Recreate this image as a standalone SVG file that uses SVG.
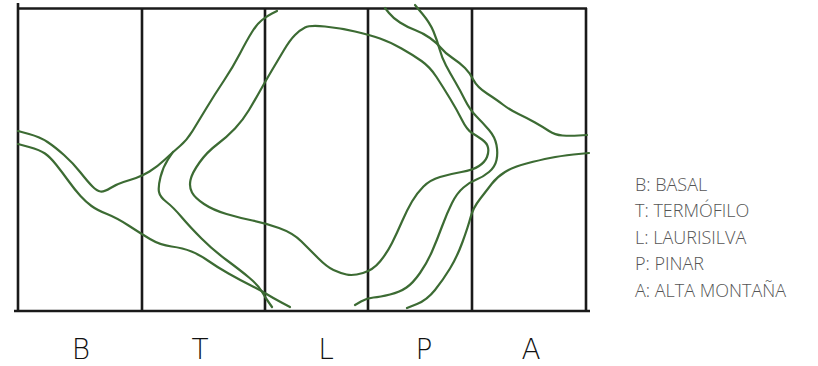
<svg xmlns="http://www.w3.org/2000/svg" width="818" height="366" viewBox="0 0 818 366">
<style>
.frame{stroke:#1a1a1a;stroke-width:2.6;fill:none;stroke-linecap:butt}
.zone{stroke:#3c6b33;stroke-width:2.2;fill:none;stroke-linecap:round;stroke-linejoin:round}
.col{font-family:"DejaVu Sans",sans-serif;font-stretch:condensed;font-weight:300;font-size:28px;fill:#111;text-anchor:middle}
.leg{font-family:"Open Sans","Liberation Sans",sans-serif;font-weight:300;font-size:18px;fill:#555}
</style>
<rect width="818" height="366" fill="#fff"/>
<g id="frame">
<line class="frame" x1="17" y1="8.5" x2="587" y2="8.5"/>
<line class="frame" x1="14" y1="311" x2="590" y2="311" stroke-width="3"/>
<line class="frame" x1="18" y1="3" x2="18" y2="311"/>
<line class="frame" x1="142" y1="8" x2="142" y2="311"/>
<line class="frame" x1="265" y1="8" x2="265" y2="311"/>
<line class="frame" x1="368" y1="8" x2="368" y2="311"/>
<line class="frame" x1="472" y1="8" x2="472" y2="311"/>
<line class="frame" x1="586" y1="8" x2="586" y2="311"/>
</g>
<g id="connectors">
<path class="zone" d="M18,131 L29,134 Q40,137 47.5,142 Q55,147 64,155 Q73,163 80.5,172.5 Q88,182 92.5,186.5 Q97,191 100.5,191.5 Q104,192 110.5,188 Q117,184 123.5,182 Q130,180 136,178 Q142,176 149.5,171.5 Q157,167 165,159.5 Q173,152 180,146 Q187,140 192.5,131 Q198,122 206.5,108 Q215,94 224,80.5 Q233,67 240,53.5 Q247,40 252,32 Q257,24 262,20 Q267,16 272,13.5 L277,11"/>
<path class="zone" d="M173,152 L168,159.5 Q163,167 160.5,177 Q158,187 159,192 Q160,197 166.5,202 Q173,207 181.5,217 Q190,227 201.5,238.5 Q213,250 226.5,260 Q240,270 249,277.5 Q258,285 261.5,291 Q265,297 268.5,302 L272,307"/>
<path class="zone" d="M18,144 L29,147 Q40,150 45,153.5 Q50,157 56,164.5 Q62,172 68.5,181 Q75,190 80.5,196 Q86,202 91.5,206 Q97,210 107,214 Q117,218 128.5,225.5 Q140,233 150,239 Q160,245 171.5,246.5 Q183,248 191.5,251.5 Q200,255 208.5,261 Q217,267 228.5,273.5 Q240,280 250,285 Q260,290 266.5,294 Q273,298 281.5,302.5 L290,307"/>
<path class="zone" d="M305,27.5 Q310,25 325,26.5 Q340,28 355,31.5 Q370,35 380,38.5 Q390,42 401.5,48.5 Q413,55 421.5,61 Q430,67 436.5,77 Q443,87 450,98.5 Q457,110 462,120 Q467,130 472,133 Q477,136 482,139.5 Q487,143 488,147.5 Q489,152 487,157 Q485,162 479,166 Q473,170 461.5,172 Q450,174 440,177 Q430,180 423.5,186.5 Q417,193 412,201.5 Q407,210 402,221.5 Q397,233 392,243 Q387,253 380,261.5 Q373,270 363,273 Q353,276 346.5,274.5 Q340,273 333.5,270 Q327,267 318.5,258.5 Q310,250 301.5,241.5 Q293,233 279,228 Q265,223 252.5,220.5 Q240,218 226.5,214 Q213,210 204,204 Q195,198 192,192.5 Q189,187 190.5,180 Q192,173 199.5,162.5 Q207,152 217,144.5 Q227,137 235,128.5 Q243,120 249,110 Q255,100 260,91 Q265,82 271.5,71 Q278,60 284,50 Q290,40 295,35 Q300,30 305,27.5 Z"/>
<path class="zone" d="M385,8 L389,13 Q393,18 400,22.5 Q407,27 415,30 Q423,33 430,38 Q437,43 441,48 Q445,53 452.5,58 Q460,63 465,68 Q470,73 473.5,80 Q477,87 487,93.5 Q497,100 503.5,105 Q510,110 518.5,114 Q527,118 535,122.5 Q543,127 549,131 Q555,135 562.5,135.5 Q570,136 578.5,135.5 L587,135"/>
<path class="zone" d="M415,5 L422.5,14 Q430,23 433.5,31.5 Q437,40 439.5,49 Q442,58 446,65.5 Q450,73 455,81.5 Q460,90 465,100 Q470,110 476.5,116.5 Q483,123 489,130 Q495,137 496.5,145 Q498,153 496.5,160 Q495,167 489,172 Q483,177 476.5,179.5 Q470,182 463.5,187.5 Q457,193 452,203 Q447,213 442,226.5 Q437,240 432,251.5 Q427,263 420,273 Q413,283 406.5,287.5 Q400,292 390,294.5 Q380,297 373.5,297.5 Q367,298 361,301.5 L355,305"/>
<path class="zone" d="M589,153 L573.5,154.5 Q560,156 550,158 Q540,160 526.5,163.5 Q513,167 505,172 Q497,177 492,183.5 Q487,190 480,199 Q473,208 470.5,217.5 Q468,227 462.5,242 Q457,257 450,268.5 Q443,280 435,290 Q427,300 417,304 L407,308"/>
</g>
<g id="column-labels">
<text class="col" x="81" y="359">B</text>
<text class="col" x="200" y="359">T</text>
<text class="col" x="326" y="359">L</text>
<text class="col" x="424" y="359">P</text>
<text class="col" x="531" y="359">A</text>
</g>
<g id="legend">
<text class="leg" x="635" y="190.5">B: BASAL</text>
<text class="leg" x="635" y="217">T: TERMÓFILO</text>
<text class="leg" x="635" y="243.5">L: LAURISILVA</text>
<text class="leg" x="635" y="270">P: PINAR</text>
<text class="leg" x="635" y="296.5">A: ALTA MONTAÑA</text>
</g>
</svg>
